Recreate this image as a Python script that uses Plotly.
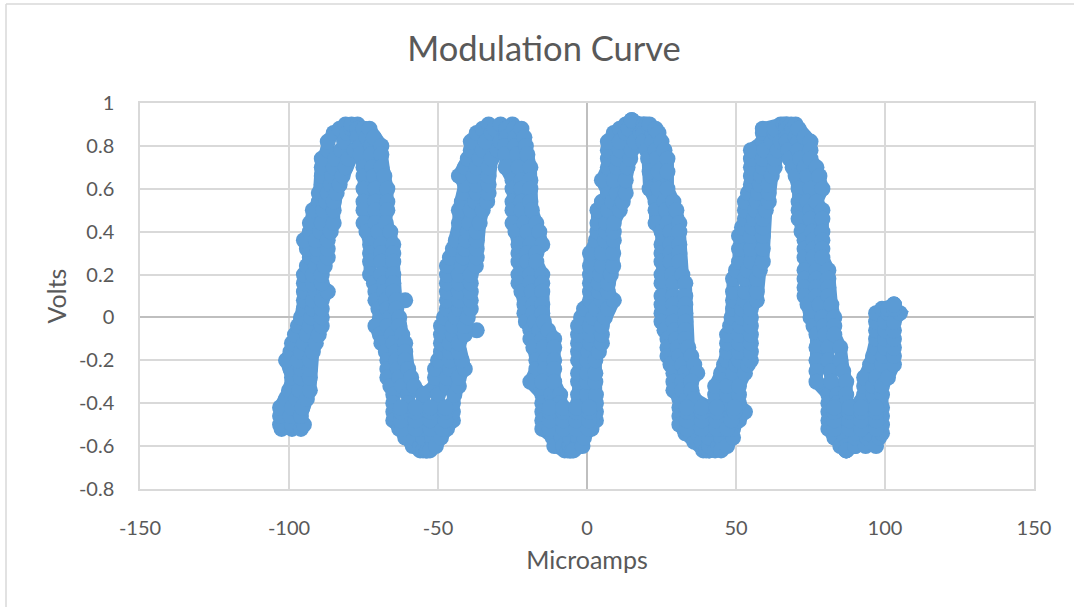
import plotly.graph_objects as go

TITLE = "Modulation Curve"
X_LABEL = "Microamps"
Y_LABEL = "Volts"
x_ticks = [-150, -100, -50, 0, 50, 100, 150]
y_ticks = [-0.8, -0.6, -0.4, -0.2, 0, 0.2, 0.4, 0.6, 0.8, 1]

# Each limb of the curve: volts, and left / centre / right of the band in microamps
rise1_v = [-0.52,-0.5,-0.46,-0.42,-0.38,-0.34,-0.28,-0.24,-0.2,-0.16,-0.12,-0.08,-0.04,0,0.04,0.08,0.12,0.16,0.2,0.24,0.28,0.32,0.36,0.4,0.44,0.5,0.54,0.58,0.62,0.66,0.7,0.74,0.78,0.82,0.86,0.88,0.9]
rise1_l = [-102.5,-103,-103,-103,-101,-100,-99,-99.5,-101,-99.5,-99,-98,-97,-96,-95,-95,-95,-95,-95,-94,-93,-94,-95,-93,-93,-92,-90,-90,-89,-89,-89,-89,-87,-87,-85,-83,-81]
rise1_m = [-99,-99,-99.5,-99,-97.5,-96.5,-96,-96,-97,-96,-95,-94,-93,-92.5,-92,-92,-91,-92,-92,-91,-90,-90.5,-91,-89.5,-89,-88.5,-87.5,-87,-86,-85.5,-85,-84.5,-82.5,-81.5,-80.5,-79,-79]
rise1_r = [-96,-95,-96,-95.5,-94,-93,-93,-93,-93,-92,-91,-90,-89,-89,-89,-89,-87,-89,-89,-88,-87,-87,-87,-86,-85,-85,-85,-84,-83,-82,-81,-80,-78,-76,-76,-75,-77]

fall1_v = [0.88,0.84,0.8,0.76,0.7,0.66,0.6,0.54,0.5,0.44,0.4,0.34,0.3,0.26,0.2,0.16,0.12,0.08,0.04,0,-0.04,-0.08,-0.12,-0.16,-0.2,-0.24,-0.28,-0.32,-0.36,-0.4,-0.44,-0.48,-0.52,-0.56,-0.6,-0.62]
fall1_l = [-77,-77,-76,-76,-75,-75,-75,-75,-75,-75,-74,-72.8,-72.8,-72.8,-72.8,-71.5,-71,-71,-70,-69.5,-71,-69.5,-69,-67.5,-67,-67,-67,-66,-65,-65,-65,-65,-63,-61,-58.5,-56]
fall1_m = [-75,-74,-72.5,-72.5,-72,-71.5,-71,-71,-71,-71,-70,-69,-69,-69,-69,-68,-68,-67.5,-67,-66,-67,-65.5,-65,-64,-64,-63.5,-63,-62,-60,-60,-60,-60,-59,-58,-56,-55]
fall1_r = [-73,-71.5,-69,-69,-69,-68,-67,-67,-67,-67.5,-66,-65,-65,-65,-65,-65,-65,-64,-64,-63,-63,-62,-61,-61,-61,-60,-59,-58,-55,-55,-55,-55,-55,-55,-54,-54]

rise2_v = [-0.62,-0.6,-0.56,-0.52,-0.48,-0.44,-0.4,-0.36,-0.32,-0.28,-0.24,-0.2,-0.16,-0.12,-0.08,-0.04,0,0.04,0.08,0.12,0.16,0.2,0.24,0.28,0.32,0.36,0.4,0.44,0.5,0.54,0.58,0.62,0.66,0.7,0.74,0.78,0.82,0.86,0.88,0.9]
rise2_l = [-54,-54,-55,-55,-55,-55,-55,-55,-51,-51,-51,-50,-49,-49,-49,-49,-48,-47,-47,-47,-47,-47,-47,-46,-45,-44,-43,-43,-43,-42,-41,-41,-43,-41,-40,-39,-39,-37,-35,-33]
rise2_m = [-53.5,-52,-52,-51,-50,-50,-50,-50,-47,-47,-46,-46,-46,-46,-45,-45,-44,-43,-43,-43,-43,-43,-42,-41.5,-41,-40.5,-40,-39.5,-39,-37.5,-37,-37,-38,-37,-36,-35,-34,-32,-31,-29]
rise2_r = [-52.7,-50.7,-49,-47,-45,-45,-45,-44.5,-43,-43,-41,-42,-43,-43,-41,-41,-40,-39,-39,-39,-39,-39,-37.3,-37,-37,-37,-37,-36,-35,-33.5,-33,-33,-33,-33,-32,-30,-29,-27,-27,-25]

fall2_v = [0.88,0.84,0.8,0.76,0.7,0.64,0.6,0.54,0.5,0.44,0.4,0.34,0.3,0.26,0.2,0.16,0.12,0.06,0.02,-0.02,-0.06,-0.1,-0.14,-0.2,-0.24,-0.3,-0.36,-0.4,-0.44,-0.48,-0.52,-0.56,-0.6,-0.62]
fall2_l = [-27,-27,-27.5,-27.5,-27.3,-25,-25,-25,-25,-25,-24,-23,-23,-23,-23,-23,-22,-21,-21,-20.5,-19,-19,-18,-17,-17,-19,-15,-15,-15,-15,-15,-11.5,-11,-7.5]
fall2_m = [-24.5,-24,-24,-23.5,-23,-22,-22,-22,-22,-21,-20,-19,-20,-20,-19,-19,-18.5,-18,-18,-17.5,-16,-15,-14.5,-14,-14,-15,-12,-12,-10,-10,-10,-8.5,-8,-6.5]
fall2_r = [-22,-21,-20.5,-20,-19,-19,-19,-19,-18.5,-17,-16,-15,-17,-17,-15,-15,-15,-15,-15,-14.5,-13,-11,-11,-11,-11,-11,-9,-9,-5.7,-5.7,-5.7,-5.7,-6,-5.7]

rise3_v = [-0.62,-0.6,-0.56,-0.52,-0.48,-0.44,-0.4,-0.36,-0.3,-0.26,-0.2,-0.16,-0.12,-0.08,-0.04,0,0.04,0.08,0.12,0.16,0.2,0.24,0.3,0.36,0.4,0.44,0.5,0.54,0.58,0.64,0.7,0.74,0.78,0.82,0.86,0.88,0.9,0.92]
rise3_l = [-5.7,-5.7,-5.7,-5.7,-5.7,-5.7,-3,-3,-3,-3,-3,-3,-3,-3,-3,-2,-1,1,1,1,1,1,1,3,3.5,3.5,3.5,5,7,5,7,7,7,7,9,11,13,15]
rise3_m = [-5,-3.5,-3,-2,-1.5,-1.5,0,0,0,0,0,0.5,1,1,1,2,3,5,4,4,4.5,5,5,6,6.5,6.5,7,8.5,10,9,10,10.5,11,11,13,14,16,15]
rise3_r = [-4.5,-1.5,-1,1.5,3,3,3,3,2.8,2.8,2.8,4,5,5,5,6,7,9,7,7,8,8.8,8.8,9,9,9,11,12,13,13,13.6,14.5,15,16,18,19,19,15]

fall3_v = [0.9,0.88,0.86,0.82,0.78,0.74,0.68,0.6,0.54,0.5,0.44,0.4,0.34,0.3,0.26,0.2,0.16,0.1,0.06,0.02,-0.02,-0.06,-0.1,-0.14,-0.18,-0.22,-0.26,-0.3,-0.34,-0.38,-0.42,-0.46,-0.5,-0.54,-0.58,-0.62]
fall3_l = [19,19,19,19,20,20.5,21,21,23,23,23,25,25,25,25,25,25,25,25,25,25,26,27,27,27,28,29,29,29,31,31,31,31,33,36,39]
fall3_m = [20,21,22,22,23,23.5,24,24,26,26.5,27,28,28,28,28,28.5,29,29,29,29,29,29.5,30,30.5,31,32,33,32,32,33.5,36,36,36,37,38.5,40]
fall3_r = [21,23,24,25,26,27,27,27,29,30,31,31,31,31,31,32,33,33,33,33,33,33,33,34,35,36,37,35,35,36,41,41,41,41,41,41]

rise4_v = [-0.62,-0.6,-0.56,-0.52,-0.48,-0.44,-0.4,-0.36,-0.32,-0.26,-0.22,-0.2,-0.16,-0.12,-0.08,-0.04,0,0.04,0.08,0.12,0.18,0.22,0.26,0.32,0.38,0.42,0.46,0.5,0.54,0.58,0.62,0.66,0.7,0.74,0.78,0.82,0.86,0.88,0.9]
rise4_l = [41,41,41,41,41,41,43,43,43,45,46,47,47,47,47,48,48.5,49,49,49,49,50,51,51,51,52,53,53,53,54,55,55,55,55,55,59,59,59,65]
rise4_m = [43,44,45,45,46,47,47,47,47,49,50,51,51,51,51,51.5,52,52,53,53,53,54,55,55,55,55.5,56,56.5,57,57.5,58,58.5,59,59,59.5,62,63,63,66]
rise4_r = [45,47,49,49,51,53,51,51,51,53,54,55,55,55,55,55,55,55,57,57,57,58,59,59,59,59,59,60,61,61,61,62,63,63,64,65,67,67,67]

fall4_v = [0.9,0.88,0.84,0.82,0.78,0.74,0.7,0.66,0.6,0.54,0.5,0.46,0.4,0.36,0.32,0.28,0.22,0.18,0.14,0.1,0.06,0,-0.04,-0.08,-0.14,-0.2,-0.25,-0.3,-0.36,-0.4,-0.44,-0.48,-0.52,-0.56,-0.6,-0.62]
fall4_l = [67,67,67,67,67.5,68,69,70,71,71,71,71,72,73,73,73,73,73,73,73,74,75,76,77,77,77,77,77,81,81,81,81,81,83,85,87]
fall4_m = [68.5,69,70,71,71,71.5,73,74,75,74,75,75,75.5,76,76,76,77,77,77,77,78,79,79.5,80,81,81,82,82,84,84,85,85.5,85.5,86.5,87,87]
fall4_r = [70,71,73,75,75,75,77,78,79,77,79,79,79,79,79,79,81,81,81,81,82,83,83,83,85,85,86,87,87,87,89,90,90,90,90,87]

rise5_v = [-0.6,-0.56,-0.54,-0.5,-0.46,-0.42,-0.36,-0.32,-0.28,-0.22,-0.18,-0.14,-0.1,-0.06,-0.02,0.02,0.04,0.06]
rise5_l = [90,90,90,90,90,90,93,93,93,95,96,97,97,97,97,97,99,103]
rise5_m = [93.5,94,94.5,94.5,94.5,94.5,96,96,97,99,99.5,100,100,100,100,101,101,103]
rise5_r = [97,98,99,99,99,99,99,99,101,103,103,103,103,103,103,105,103,103]

# Readings inside the four troughs, where the band is solid
trough_v = [-0.52, -0.48, -0.44, -0.42]
trough1_a = [-62, -62.5, -62.5, -62.5]
trough1_b = [-57.5, -57.5, -57.5, -57.5]
trough1_c = [-52.5, -52.5, -52.5, -52.5]
trough1_d = [-48.5, -47.5, -47.5, -47.5]
trough2_a = [-12.5, -12.5, -12.5, -12.5]
trough2_b = [-8, -8, -8, -8]
trough2_c = [-3.6, -3.6, -3.6, -3.6]
trough2_d = [0.5, 0.7, 0.7, 0.7]
trough3_a = [33.5, 33.5, 33.5, 33.5]
trough3_b = [38.5, 38.5, 38.5, 38.5]
trough3_c = [43.5, 43.5, 43.5, 43.5]
trough3_d = [47, 48.5, 49.5, 49.5]
trough4_a = [83, 83, 83, 83]
trough4_b = [88, 88, 88, 88]
trough4_c = [92, 92, 92, 92]
trough4_d = [97, 97, 97, 97]

stray_x = [-61, -37]
stray_y = [0.08, -0.06]

limbs = [
    (rise1_v, rise1_l, rise1_m, rise1_r), (fall1_v, fall1_l, fall1_m, fall1_r),
    (rise2_v, rise2_l, rise2_m, rise2_r), (fall2_v, fall2_l, fall2_m, fall2_r),
    (rise3_v, rise3_l, rise3_m, rise3_r), (fall3_v, fall3_l, fall3_m, fall3_r),
    (rise4_v, rise4_l, rise4_m, rise4_r), (fall4_v, fall4_l, fall4_m, fall4_r),
    (rise5_v, rise5_l, rise5_m, rise5_r),
    (trough_v, trough1_a, trough1_b, trough1_c, trough1_d),
    (trough_v, trough2_a, trough2_b, trough2_c, trough2_d),
    (trough_v, trough3_a, trough3_b, trough3_c, trough3_d),
    (trough_v, trough4_a, trough4_b, trough4_c, trough4_d),
]
microamps, volts = [], []
# stray readings are not joined to each other
for sx, sy in zip(stray_x, stray_y):
    microamps += [sx, None]
    volts += [sy, None]
for v, *cols in limbs:
    for col in cols:
        microamps += col + [None]
        volts += v + [None]

W, H = 1074, 607
L, R, T, B = 140, 1034, 103, 489
TEXT = "#595959"
FONT = "Lato"
BLUE = "#5B9BD5"

fig = go.Figure(go.Scatter(x=microamps, y=volts, mode="lines+markers", connectgaps=False,
                           line=dict(color=BLUE, width=13),
                           marker=dict(color=BLUE, size=16, line=dict(width=0)),
                           hoverinfo="skip", showlegend=False))
axis = dict(showgrid=True, gridcolor="#D9D9D9", gridwidth=1.5, zeroline=True,
            zerolinecolor="#BFBFBF", zerolinewidth=1.5, showline=True, mirror=True,
            linecolor="#D9D9D9", linewidth=1.5,
            ticks="outside", tickcolor="rgba(0,0,0,0)",
            tickfont=dict(family=FONT, size=20, color=TEXT))
fig.update_layout(
    width=W, height=H, autosize=False,
    margin=dict(l=L, r=W - R, t=T, b=H - B, pad=0),
    paper_bgcolor="white", plot_bgcolor="white",
    font=dict(family=FONT, color=TEXT),
    title=dict(text=TITLE, font=dict(family=FONT, size=34.5, color=TEXT), xref="container", x=544 / W,
               xanchor="center", yref="container", y=1 - 49 / H, yanchor="middle"),
    xaxis=dict(range=[-150, 150], tickvals=x_ticks, ticktext=[str(t) for t in x_ticks], ticklen=20,
               title=dict(text=X_LABEL, font=dict(family=FONT, size=25, color=TEXT), standoff=14), **axis),
    yaxis=dict(range=[-0.8, 1], tickvals=y_ticks, ticktext=[f"{t:g}" for t in y_ticks], ticklen=20,
               title=dict(text=Y_LABEL, font=dict(family=FONT, size=25, color=TEXT), standoff=5), **axis),
    shapes=[
        dict(type="line", xref="paper", yref="paper", x0=(6 - L) / (R - L), x1=(6 - L) / (R - L),
             y0=(B - 4) / (B - T), y1=(B - H) / (B - T), line=dict(color="#D9D9D9", width=1.5)),
        dict(type="line", xref="paper", yref="paper", x0=(6 - L) / (R - L), x1=(W - L) / (R - L),
             y0=(B - 4) / (B - T), y1=(B - 4) / (B - T), line=dict(color="#D9D9D9", width=1.5)),
    ],
)
fig.write_html("out.html", post_script="document.body.style.margin='0';",
               config={"displayModeBar": False})
